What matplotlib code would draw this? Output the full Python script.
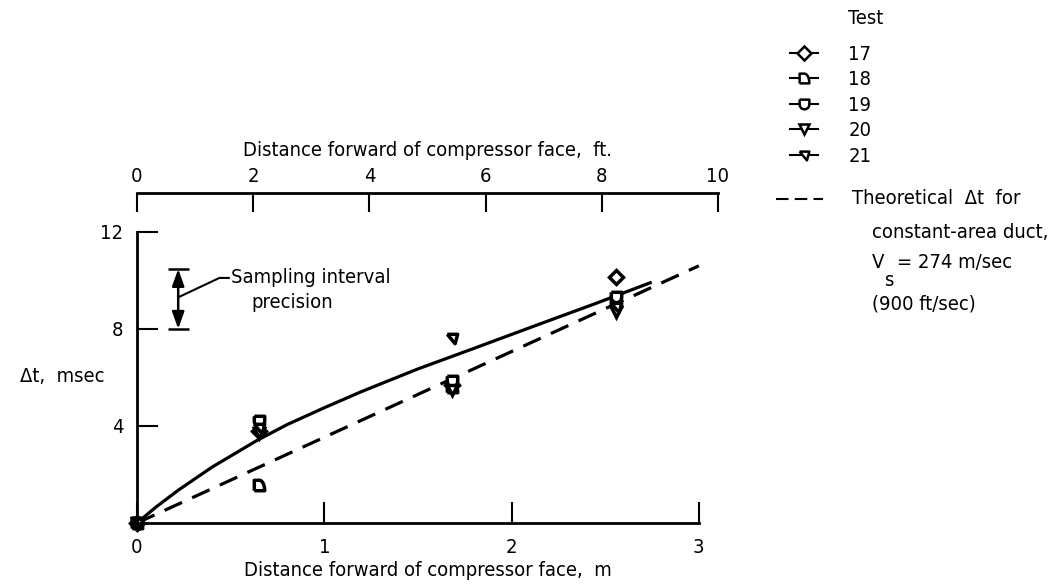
import numpy as np
import matplotlib
matplotlib.use('Agg')
import matplotlib.pyplot as plt
from matplotlib.path import Path
from matplotlib.lines import Line2D

plt.rcParams['font.family'] = ['DejaVu Sans']
plt.rcParams['font.stretch'] = 'condensed'
plt.rcParams['font.size'] = 14.5

# data (m, msec)
dist_m = [0.0, 0.65, 1.68, 2.56]
tests = ['17', '18', '19', '20', '21']
dt_17 = [0.0, 3.8, 5.7, 10.15]
dt_18 = [0.0, 1.55, 5.6, 9.1]
dt_19 = [0.0, 4.2, 5.85, 9.3]
dt_20 = [0.0, 3.7, 5.5, 8.7]
dt_21 = [0.0, 3.9, 7.63, 8.9]

# faired curve through data
fit_d = [0.0, 0.1, 0.22, 0.4, 0.64, 0.8, 1.0, 1.2, 1.5, 1.8, 2.15, 2.45, 2.74]
fit_dt = [0.0, 0.65, 1.35, 2.3, 3.4, 4.05, 4.75, 5.42, 6.35, 7.2, 8.2, 9.05, 9.9]

# theoretical constant-area duct, Vs = 274 m/sec
theory_d = [0.0, 3.0]
theory_dt = [0.0, 10.6]

ft_ticks = [0, 2, 4, 6, 8, 10]
m_ticks = [0, 1, 2, 3]
dt_ticks = [4, 8, 12]

# marker shapes for the five tests
ang = np.linspace(np.pi / 2, 0, 8)
m18 = Path([(-1, -1), (-1, 1), (0, 1)] + [(np.cos(a) * 1.0, np.sin(a) * 2 - 1) for a in ang[1:]] + [(-1, -1)])
ang2 = np.linspace(0, -np.pi, 9)
m19 = Path([(-1, 1), (1, 1)] + [(np.cos(a), np.sin(a)) for a in ang2] + [(-1, 1)])
m21 = Path([(-1, 0.8), (1, 0.8), (0.5, -1), (-1, 0.8)])
markers = ['D', m18, m19, 'v', m21]
all_dt = [dt_17, dt_18, dt_19, dt_20, dt_21]

fig = plt.figure(figsize=(10.55, 5.85), dpi=100)
ax = fig.add_axes([137 / 1055, 62 / 585, 581 / 1055, 330 / 585])
ax.set_xlim(0, 3.102)
ax.set_ylim(0, 13.6)

for sp in ['top', 'right']:
    ax.spines[sp].set_visible(False)
ax.spines['bottom'].set_bounds(0, 3)
ax.spines['left'].set_bounds(0, 12)
for sp in ['bottom', 'left']:
    ax.spines[sp].set_linewidth(2)

ax.set_xticks(m_ticks)
ax.set_yticks(dt_ticks)
ax.tick_params(axis='x', direction='in', length=15, width=1.5, pad=11)
ax.tick_params(axis='y', direction='in', length=15, width=1.5, pad=10)
ax.set_xlabel('Distance forward of compressor face,  m', labelpad=3)

ax2 = ax.twiny()
ax2.set_xlim(0, 10)
ax2.set_xticks(ft_ticks)
for sp in ['bottom', 'left', 'right']:
    ax2.spines[sp].set_visible(False)
ax2.spines['top'].set_linewidth(2)
ax2.tick_params(axis='x', direction='in', length=14, width=1.5, pad=5)
ax2.set_xlabel('Distance forward of compressor face,  ft.', labelpad=8)

# curves
ax.plot(fit_d, fit_dt, color='black', lw=2.3, solid_joinstyle='round')
ax.plot(theory_d, theory_dt, color='black', lw=2.3, dashes=(6, 3.5))

# test points
for lab, mk, dts in zip(tests, markers, all_dt):
    ax.plot(dist_m, dts, linestyle='none', marker=mk, markersize=7.5, mec='black',
            mfc='white', mew=2.5, clip_on=False)

# sampling interval bar
ax.annotate('', xy=(0.22, 10.47), xytext=(0.22, 8.0),
            arrowprops=dict(arrowstyle='<|-|>,head_length=0.7,head_width=0.25', color='black',
                            lw=1.8, shrinkA=0, shrinkB=0))
ax.hlines([8.0, 10.47], 0.167, 0.275, color='black', lw=1.8)
ax.plot([0.22, 0.44, 0.49], [9.3, 10.1, 10.1], color='black', lw=1.5)
ax.text(0.5, 10.1, 'Sampling interval', va='center', ha='left')
ax.text(0.61, 9.1, 'precision', va='center', ha='left')

fig.text(20 / 1055, 1 - 377 / 585, '\u0394t,  msec', va='center', ha='left')

# legend of tests
handles = [Line2D([], [], color='black', lw=1.5, marker=mk, markersize=7, mec='black',
                  mfc='white', mew=1.8) for mk in markers]
fig.legend(handles, tests, loc='upper left', bbox_to_anchor=(790 / 1055, 1 - 45 / 585),
           frameon=False, borderpad=0, borderaxespad=0, labelspacing=0.32,
           handlelength=1.4, handletextpad=1.5, fontsize=14.5)
fig.text(866 / 1055, 1 - 18 / 585, 'Test', ha='center', va='center')

# theoretical line key
fig.add_artist(Line2D([776 / 1055, 823 / 1055], [1 - 199 / 585] * 2, color='black', lw=1.5,
                      dashes=(6, 3)))
fig.text(852 / 1055, 1 - 199 / 585, 'Theoretical  \u0394t  for', va='center', ha='left')
fig.text(872 / 1055, 1 - 233 / 585, 'constant-area duct,', va='center', ha='left')
fig.text(872 / 1055, 1 - 262 / 585, 'V', va='center', ha='left')
fig.text(884 / 1055, 1 - 280 / 585, 's', va='center', ha='left')
fig.text(897 / 1055, 1 - 262 / 585, '= 274 m/sec', va='center', ha='left')
fig.text(872 / 1055, 1 - 304 / 585, '(900 ft/sec)', va='center', ha='left')

fig.savefig('out.png', dpi=100)
